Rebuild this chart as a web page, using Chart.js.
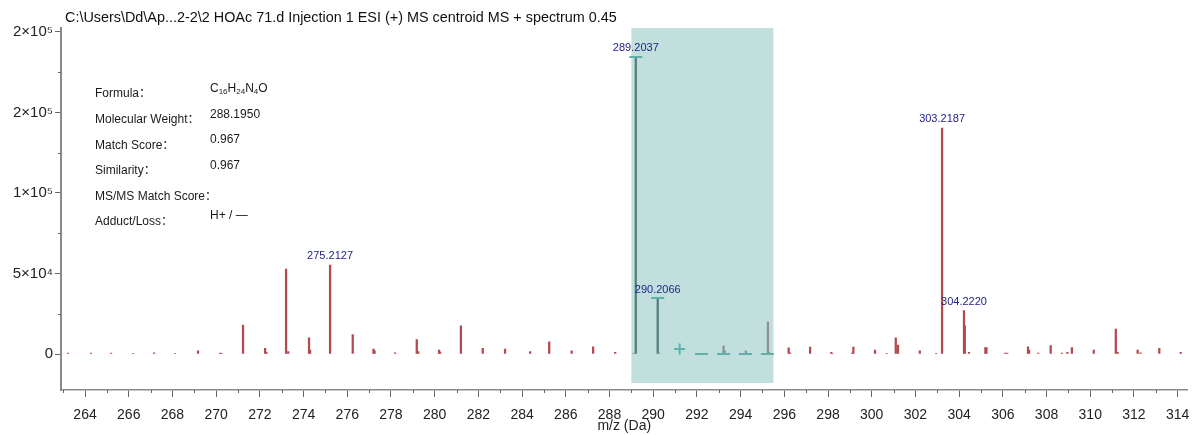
<!DOCTYPE html>
<html>
<head>
<meta charset="utf-8">
<title>MS spectrum</title>
<script src="https://cdn.jsdelivr.net/npm/chart.js@4.4.0/dist/chart.umd.min.js"></script>
<style>
body { margin: 0; background: #fff; }
#wrap { width: 1196px; height: 435px; }
</style>
</head>
<body>
<div id="wrap"><canvas id="spectrum" width="1196" height="435"></canvas></div>
<script>
// centroid peaks (m/z and counts)
var peakMz = [263.22, 264.27, 265.19, 266.20, 267.16, 268.12, 269.17, 270.18, 270.25, 271.23,
	272.24, 272.30, 273.20, 273.30, 274.25, 274.30, 275.2127, 276.25, 277.20, 277.25,
	278.19, 279.18, 279.25, 280.20, 280.25, 281.20, 282.20, 283.22, 284.37, 285.24,
	286.27, 287.25, 288.26, 289.10, 289.2037, 290.2066, 290.26, 292.21, 293.22, 293.27,
	294.24, 295.25, 295.30, 296.20, 296.26, 297.18, 298.15, 298.20, 299.10, 299.16,
	300.15, 300.68, 301.10, 301.20, 302.20, 302.95, 303.2187, 304.2220, 304.26, 304.45,
	305.20, 305.25, 306.10, 306.20, 307.15, 307.20, 307.62, 308.19, 308.70, 308.95,
	309.16, 310.16, 311.17, 311.25, 312.17, 312.30, 313.16, 314.14];
var peakInt = [500, 600, 500, 400, 700, 400, 2000, 600, 400, 18000,
	3500, 1000, 52800, 1500, 10000, 2500, 55300, 12000, 3000, 2000,
	800, 9000, 1500, 2500, 1200, 17500, 3500, 3000, 1500, 7500,
	2000, 4500, 1000, 500, 184500, 34800, 800, 300, 5000, 2000,
	2000, 19900, 1200, 3800, 800, 4300, 1000, 300, 600, 4300,
	2500, 400, 10000, 5500, 2000, 400, 140400, 26900, 17600, 1000,
	4000, 4000, 600, 600, 4500, 2500, 500, 5200, 600, 1000,
	4000, 2500, 15500, 1000, 2500, 800, 3500, 1000];

// predicted isotope pattern (teal markers)
var isoMz = [289.2037, 290.2066, 291.21, 292.21, 293.22, 294.22, 295.23];
var isoInt = [184500, 34800, 3100, 0, 0, 0, 0];
var isoWindow = [289.0, 295.5];
var isoFloor = -18000;

var labelMz = [275.2127, 289.2037, 290.2066, 303.2187, 304.2220];

var xTicks = [264, 266, 268, 270, 272, 274, 276, 278, 280, 282, 284, 286, 288, 290,
	292, 294, 296, 298, 300, 302, 304, 306, 308, 310, 312, 314];
var xMinor = [263, 265, 267, 269, 271, 273, 275, 277, 279, 281, 283, 285, 287, 289,
	291, 293, 295, 297, 299, 301, 303, 305, 307, 309, 311, 313];
var yTicks = [0, 50000, 100000, 150000, 200000];
var yTickLabels = ["0", "5×10⁴", "1×10⁵", "2×10⁵", "2×10⁵"];
var yMinor = [25000, 75000, 125000, 175000];

var titleText = "C:\\Users\\Dd\\Ap...2-2\\2 HOAc 71.d Injection 1 ESI (+) MS centroid MS + spectrum 0.45";
var infoLabels = ["Formula：", "Molecular Weight：", "Match Score：", "Similarity：", "MS/MS Match Score：", "Adduct/Loss："];
var infoValues = ["", "288.1950", "0.967", "0.967", "", "H+ / —"];
// formula pieces: [text, subscript?]
var formulaParts = [["C", 0], ["16", 1], ["H", 0], ["24", 1], ["N", 0], ["4", 1], ["O", 0]];

var FONT = '"Liberation Sans", "DejaVu Sans", "Noto Sans CJK SC", sans-serif';

function inWindow(mz) {
	return mz >= isoWindow[0] && mz <= isoWindow[1];
}

var spectrumDecor = {
	id: 'spectrumDecor',
	beforeDatasetsDraw: function(chart) {
		var ctx = chart.ctx, xs = chart.scales.x, ys = chart.scales.y;
		var x0 = xs.getPixelForValue(isoWindow[0]);
		var x1 = xs.getPixelForValue(isoWindow[1]);
		var y1 = ys.getPixelForValue(isoFloor);
		ctx.save();
		ctx.fillStyle = '#c0dfdd';
		ctx.fillRect(x0, chart.chartArea.top, x1 - x0, y1 - chart.chartArea.top);
		ctx.restore();
	},
	afterDatasetsDraw: function(chart) {
		var ctx = chart.ctx, xs = chart.scales.x, ys = chart.scales.y;
		ctx.save();
		ctx.font = '11px ' + FONT;
		ctx.fillStyle = '#23238c';
		ctx.textAlign = 'center';
		ctx.textBaseline = 'bottom';
		labelMz.forEach(function(m) {
			var i = peakMz.indexOf(m);
			var px = xs.getPixelForValue(m);
			var py = ys.getPixelForValue(peakInt[i]);
			ctx.fillText(m.toFixed(4), px, py - 3);
		});
		ctx.restore();
	},
	afterDraw: function(chart) {
		var ctx = chart.ctx, xs = chart.scales.x, ys = chart.scales.y;
		var area = chart.chartArea;
		ctx.save();
		// short minor ticks
		ctx.strokeStyle = '#666';
		ctx.lineWidth = 1;
		ctx.beginPath();
		xMinor.forEach(function(v) {
			var px = Math.round(xs.getPixelForValue(v)) + 0.5;
			ctx.moveTo(px, area.bottom);
			ctx.lineTo(px, area.bottom + 3);
		});
		yMinor.forEach(function(v) {
			var py = Math.round(ys.getPixelForValue(v)) + 0.5;
			ctx.moveTo(area.left, py);
			ctx.lineTo(area.left - 3, py);
		});
		ctx.stroke();

		// file title
		ctx.fillStyle = '#111';
		ctx.font = '14.4px ' + FONT;
		ctx.textAlign = 'left';
		ctx.textBaseline = 'middle';
		ctx.fillText(titleText, area.left + 4, 18);

		// compound info block
		ctx.font = '12px ' + FONT;
		ctx.fillStyle = '#1a1a1a';
		for (var i = 0; i < infoLabels.length; i++) {
			ctx.fillText(infoLabels[i], 95, 94 + i * 25.6);
			if (infoValues[i]) ctx.fillText(infoValues[i], 210, 89 + i * 25.4);
		}
		var fx = 210;
		formulaParts.forEach(function(p) {
			ctx.font = (p[1] ? '8px ' : '12px ') + FONT;
			ctx.fillText(p[0], fx, p[1] ? 92 : 89);
			fx += ctx.measureText(p[0]).width;
		});
		ctx.restore();
	}
};

var ctx1 = document.getElementById('spectrum');

var barData = peakMz.map(function(m, i) { return { x: m, y: peakInt[i] }; });
var isoData = isoMz.map(function(m, i) { return { x: m, y: isoInt[i] }; });

var chart1 = new Chart(ctx1, {
	type: 'bar',
	data: {
		datasets: [
		{
			type: 'scatter',
			label: 'isotope pattern',
			data: isoData,
			showLine: false,
			pointStyle: function(c) { return c.dataIndex === 2 ? 'cross' : 'line'; },
			pointRadius: function(c) { return c.dataIndex === 2 ? 5.5 : 6.5; },
			borderColor: '#5fb0ab',
			backgroundColor: '#5fb0ab',
			borderWidth: 2,
			order: 0
		},
		{
			label: 'spectrum',
			data: barData,
			barThickness: 1.6,
			backgroundColor: function(c) {
				if (!c.raw) return '#b34a4d';
				if (inWindow(c.raw.x)) return c.raw.y > 30000 ? '#537e7b' : '#8e9291';
				return '#b34a4d';
			},
			borderWidth: 0,
			order: 1
		}
		]
	},
	options: {
		responsive: false,
		animation: false,
		devicePixelRatio: 1,
		layout: { padding: { top: 28, right: 6, left: 0, bottom: 0 } },
		plugins: {
			legend: { display: false },
			tooltip: { enabled: false },
			title: { display: false }
		},
		scales: {
			x: {
				type: 'linear',
				offset: false,
				min: 262.9,
				max: 314.45,
				afterFit: function(s) {
					s.height = 45;
					// keep the plot right edge where it is, the last label fits anyway
					s.paddingLeft = 0;
					s.paddingRight = 0;
				},
				afterBuildTicks: function(s) {
					s.ticks = xTicks.map(function(v) { return { value: v }; });
				},
				ticks: {
					autoSkip: false,
					maxRotation: 0,
					padding: 10,
					color: '#222',
					font: { family: FONT, size: 14 },
					callback: function(v) { return String(v); }
				},
				grid: { drawOnChartArea: false, offset: false, tickLength: 7, color: '#666' },
				border: { color: '#8a8a8a', width: 1.5 },
				title: {
					display: true,
					text: 'm/z (Da)',
					color: '#222',
					font: { family: FONT, size: 14 },
					padding: { top: 0, bottom: 0 }
				}
			},
			y: {
				min: -22360,
				max: 202484,
				afterFit: function(s) { s.width = 61; },
				afterBuildTicks: function(s) {
					s.ticks = yTicks.map(function(v) { return { value: v }; });
				},
				ticks: {
					padding: 2,
					color: '#222',
					font: { family: FONT, size: 15 },
					callback: function(v, idx) { return yTickLabels[idx]; }
				},
				grid: { drawOnChartArea: false, tickLength: 6, color: '#666' },
				border: { color: '#8a8a8a', width: 2 }
			}
		}
	},
	plugins: [spectrumDecor]
});
</script>
</body>
</html>
